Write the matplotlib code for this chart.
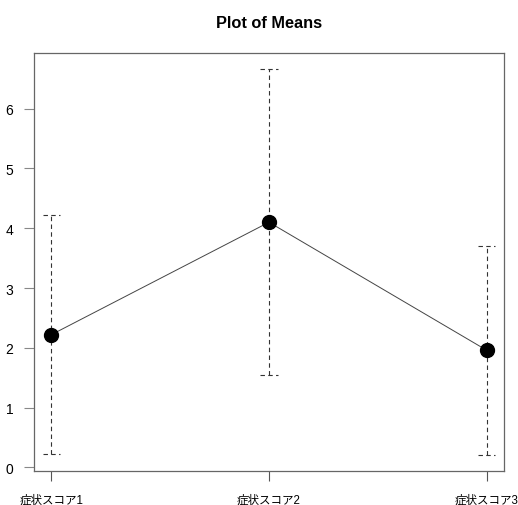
import matplotlib.pyplot as plt

plt.rcParams["font.family"] = ["Liberation Sans", "Noto Sans CJK JP", "DejaVu Sans"]

# 各スコアの平均と誤差範囲
labels = ["症状スコア1", "症状スコア2", "症状スコア3"]
means = [2.22, 4.10, 1.96]
err_half = [2.00, 2.56, 1.75]

x = list(range(1, len(labels) + 1))
lower = [m - e for m, e in zip(means, err_half)]
upper = [m + e for m, e in zip(means, err_half)]

fig = plt.figure(figsize=(5.18, 5.06), dpi=100)
ax = fig.add_axes([34 / 518, 1 - 472 / 506, 470 / 518, 418 / 506])

# 誤差棒（破線）
ax.vlines(x, lower, upper, colors="#333333", linestyles=(0, (4, 3)), linewidth=0.8)
cap = 0.04
for xi, lo, hi in zip(x, lower, upper):
    ax.hlines([lo, hi], xi - cap, xi + cap, colors="#333333",
              linestyles=(0, (4, 3)), linewidth=0.8)

# 平均値を結ぶ線と点
ax.plot(x, means, color="#444444", linewidth=0.7)
ax.plot(x, means, "o", color="black", markersize=10)

ax.set_xlim(0.92, 3.08)
ax.set_ylim(-0.06, 6.93)
ax.set_yticks(range(0, 7))
ax.set_xticks(x)
ax.set_xticklabels(labels, fontsize=8.3)
ax.tick_params(axis="x", length=7, pad=9, color="#555555")
ax.tick_params(axis="y", length=7, pad=8, color="#888888", labelsize=10)

for s in ax.spines.values():
    s.set_color("#666666")
    s.set_linewidth(0.9)

ax.set_title("Plot of Means", fontsize=11.8, fontweight="bold", pad=19)

fig.savefig("out.png", dpi=100)
